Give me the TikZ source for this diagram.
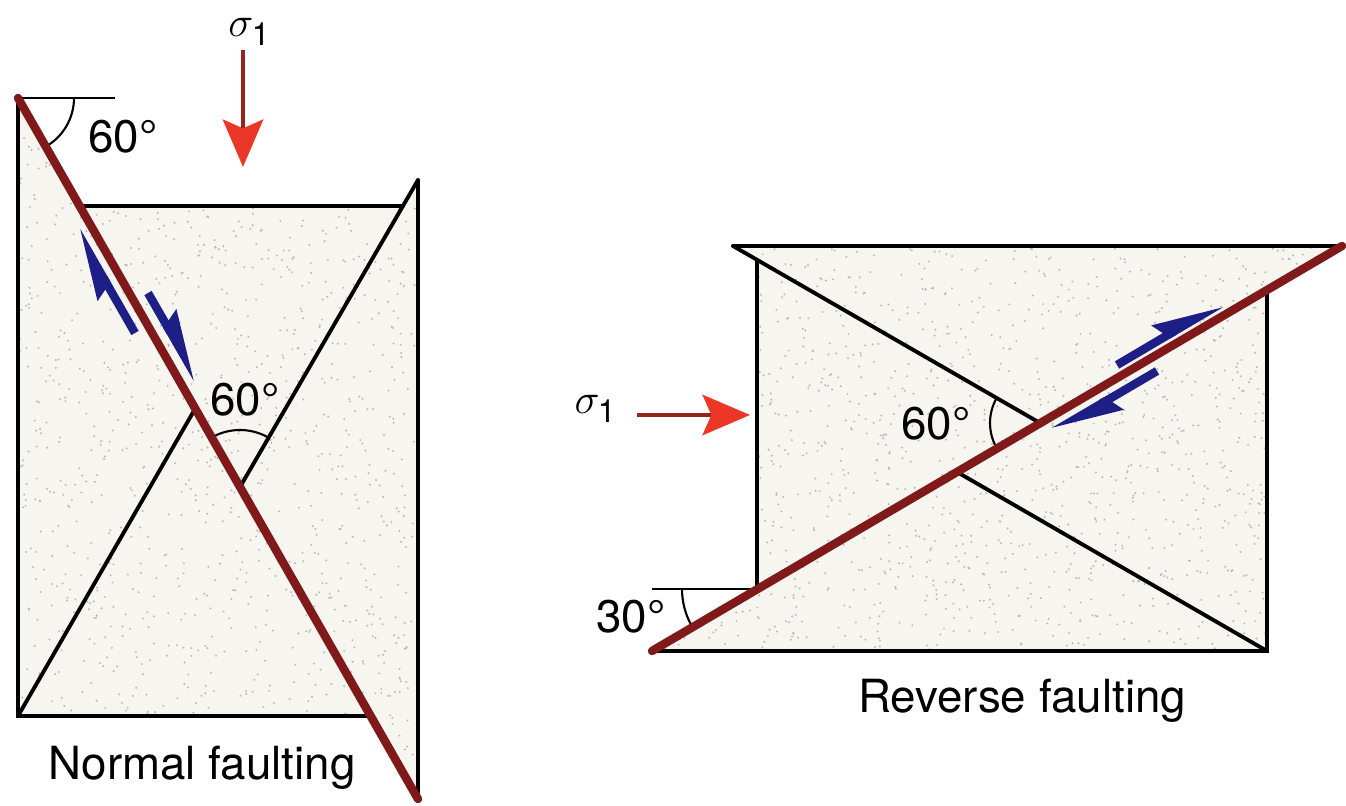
\documentclass[tikz,border=0pt]{standalone}
\usepackage{amsmath}
\usepackage{fontspec}
\setmainfont{TeX Gyre Heros}
\usetikzlibrary{arrows.meta}

\definecolor{faultred}{RGB}{128,26,26}
\definecolor{sigdark}{RGB}{150,35,30}
\definecolor{sigred}{RGB}{234,55,40}
\definecolor{slipblue}{RGB}{30,30,135}
\definecolor{rockfill}{RGB}{247,245,240}

\begin{document}
\begin{tikzpicture}[
  edge/.style={line width=1.1pt, line cap=round},
  guide/.style={line width=0.6pt},
  fault/.style={draw=faultred, line width=2.4pt, line cap=round},
  slip/.style={draw=slipblue, line width=2.4pt, -{Stealth[harpoon,length=16pt,width=9pt,inset=2pt]}},
  sigma/.style={draw=sigdark, line width=1.1pt, -{Stealth[length=13.5pt,width=11.5pt,inset=2.5pt,color=sigred]}},
  lab/.style={font=\fontsize{13}{15}\selectfont, inner sep=0pt},
  grain/.style={fill=black!28}
]
  \useasboundingbox (0,0) rectangle (13.46,8.06);

  % normal faulting
  \coordinate (nTop) at (0.18,7.08);
  \coordinate (nEnd) at (4.18,0.07);
  \coordinate (nBL) at (0.18,0.90);
  \coordinate (nBR) at (3.71,0.90);
  \coordinate (nTL) at (0.80,6.00);
  \coordinate (nTR) at (4.03,6.00);
  \coordinate (nTip) at (4.18,6.26);
  \coordinate (nX1) at (1.95,3.97);
  \coordinate (nX2) at (2.40,3.19);

  \fill[rockfill] (nTop) -- (nBL) -- (nBR) -- cycle (nTL) -- (nTR) -- (nTip) -- (nEnd) -- cycle;
  \begin{scope}
    \clip (nTop) -- (nBL) -- (nBR) -- cycle (nTL) -- (nTR) -- (nTip) -- (nEnd) -- cycle;
    \pgfmathsetseed{3}
    \foreach \i in {1,...,1300}
      \fill[grain] (0.18+4*rnd, 0.07+7.01*rnd) circle (0.011);
  \end{scope}

  \draw[edge] (nTop) -- (nBL) -- (nBR);
  \draw[edge] (nTL) -- (nTR);
  \draw[edge] (nTip) -- (nEnd);
  \draw[edge] (nBL) -- (nX1);
  \draw[edge] (nX2) -- (nTip);
  \draw[guide] (nTop) -- ++(0.97,0);
  \draw[guide] ([shift={(0:0.56)}]nTop) arc[start angle=0,end angle=-60,radius=0.56];
  \draw[guide] ([shift={(60:0.57)}]nX2) arc[start angle=60,end angle=120,radius=0.57];
  \draw[fault] (nTop) -- (nEnd);

  \draw[slip] (1.35,4.73) -- (0.76,5.76);
  \draw[slip] (1.48,5.13) -- (1.98,4.26);

  \node[lab] (sN) at (2.50,7.74) {$\sigma_{\text{1}}$};
  \coordinate (sNa) at (2.43,7.56);
  \coordinate (sNb) at (2.43,6.39);
  \draw[sigma] (sNa) -- (sNb);

  \node[lab] (aTop) at (1.23,6.69) {60°};
  \node[lab] (aMid) at (2.45,4.06) {60°};
  \node[lab, anchor=base] (nCap) at (2.02,0.26) {Normal faulting};

  % reverse faulting
  \coordinate (rLow) at (6.52,1.55);
  \coordinate (rUp) at (13.42,5.60);
  \coordinate (rTL) at (7.33,5.60);
  \coordinate (rEdgeT) at (7.57,5.46);
  \coordinate (rEdgeB) at (7.57,2.17);
  \coordinate (rRef) at (6.52,2.17);
  \coordinate (rBR) at (12.67,1.55);
  \coordinate (rRT) at (12.67,5.16);
  \coordinate (rX1) at (10.40,3.83);
  \coordinate (rX2) at (9.57,3.34);

  \fill[rockfill] (rTL) -- (rUp) -- (rEdgeB) -- (rEdgeT) -- cycle (rLow) -- (rBR) -- (rRT) -- cycle;
  \begin{scope}
    \clip (rTL) -- (rUp) -- (rEdgeB) -- (rEdgeT) -- cycle (rLow) -- (rBR) -- (rRT) -- cycle;
    \pgfmathsetseed{11}
    \foreach \i in {1,...,1500}
      \fill[grain] (6.52+6.9*rnd, 1.55+4.05*rnd) circle (0.011);
  \end{scope}

  \draw[edge] (rTL) -- (rUp);
  \draw[edge] (rTL) -- (rX1);
  \draw[edge] (rEdgeT) -- (rEdgeB);
  \draw[edge] (rLow) -- (rBR) -- (rRT);
  \draw[edge] (rX2) -- (rBR);
  \draw[guide] (rRef) -- (rEdgeB);
  \draw[guide] ([shift={(180:0.75)}]rEdgeB) arc[start angle=180,end angle=210,radius=0.75];
  \draw[guide] ([shift={(150:0.5)}]rX1) arc[start angle=150,end angle=210,radius=0.5];
  \draw[fault] (rLow) -- (rUp);

  \draw[slip] (11.17,4.41) -- (12.22,5.03);
  \draw[slip] (11.57,4.35) -- (10.53,3.74);

  \node[lab] (sR) at (5.96,3.97) {$\sigma_{\text{1}}$};
  \coordinate (sRa) at (6.37,3.91);
  \coordinate (sRb) at (7.50,3.91);
  \draw[sigma] (sRa) -- (sRb);

  \node[lab] (a30) at (6.31,1.89) {30°};
  \node[lab] (a60) at (9.36,3.82) {60°};
  \node[lab, anchor=base] (rCap) at (10.22,0.93) {Reverse faulting};
\end{tikzpicture}
\end{document}
